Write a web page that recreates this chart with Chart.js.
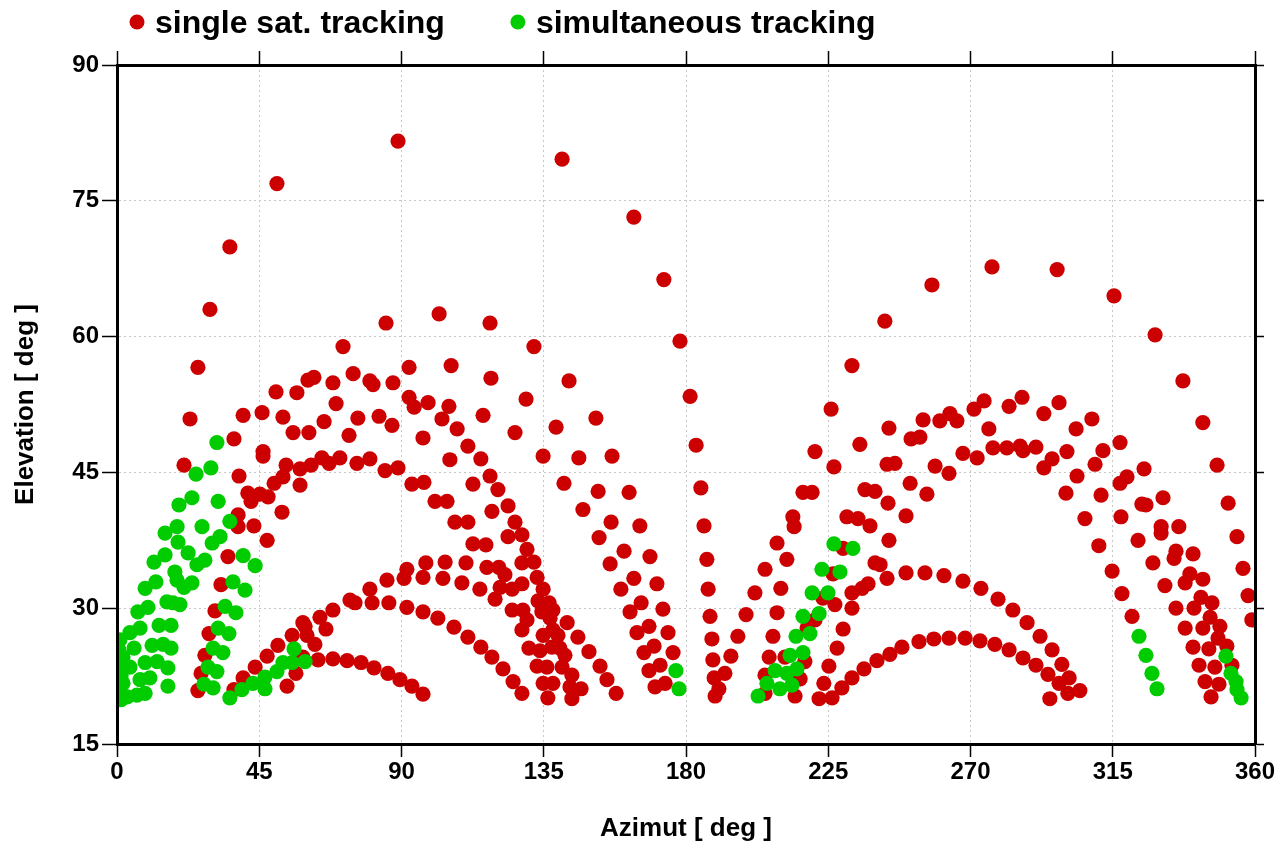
<!DOCTYPE html>
<html>
<head>
<meta charset="utf-8">
<title>Satellite tracking sky plot</title>
<script src="https://cdn.jsdelivr.net/npm/chart.js@4.4.0/dist/chart.umd.min.js"></script>
<style>
  html, body { margin: 0; padding: 0; background: #fff; }
  #wrap { width: 1280px; height: 845px; }
</style>
</head>
<body>
<div id="wrap"><canvas id="skyChart" width="1280" height="845"></canvas></div>
<script>
// [azimut, elevation] in degrees

// single satellite tracking, azimut 0..90
const singleQ1 = [
  [25.6,56.6],[23.1,50.9],[21.2,45.8],[29.4,63.0],[35.7,69.9],[50.6,76.9],[88.9,81.6],
  [37.0,48.7],[38.6,44.6],[39.9,51.3],[45.9,51.6],[50.3,53.9],[56.9,53.8],[52.5,51.1],
  [55.7,49.4],[46.2,47.3],[46.2,46.8],[53.5,45.8],[57.9,45.4],[49.7,43.8],[52.5,44.5],
  [57.9,43.6],[41.4,42.7],[42.4,41.8],[45.2,42.6],[47.8,42.3],[52.2,40.6],[38.3,40.3],
  [43.3,39.1],[60.4,55.2],[38.3,39.0],[47.5,37.5],[35.1,35.7],[32.9,32.6],[31.0,29.7],
  [29.1,27.2],[27.8,24.8],[26.6,22.8],[25.6,20.9],[55.4,27.0],[50.9,25.9],[47.5,24.7],
  [43.7,23.5],[39.9,22.3],[37.0,21.0],[53.8,21.4],[56.6,22.8],[58.8,24.6],[58.8,28.4],
  [71.5,58.9],[62.3,55.5],[68.3,54.9],[74.7,55.9],[80.0,55.1],[81.0,54.7],[87.3,54.9],
  [69.3,52.6],[65.5,50.6],[60.7,49.4],[73.4,49.1],[76.2,51.0],[82.9,51.2],[87.0,50.2],
  [61.4,45.8],[64.8,46.6],[67.1,46.0],[70.5,46.6],[75.9,46.0],[80.0,46.5],[84.8,45.2],
  [88.9,45.5],[85.4,33.1],[80.0,32.1],[73.7,30.9],[68.3,29.8],[64.2,29.0],[59.5,28.0],
  [75.3,30.6],[80.7,30.6],[86.0,30.6],[66.1,27.7],[60.1,27.0],[62.6,26.0],[63.6,24.3],
  [68.3,24.4],[72.8,24.2],[77.2,24.0],[81.3,23.4],[85.7,22.8],[89.5,22.1],[85.1,61.5]
]

// single satellite tracking, azimut 90..180
const singleQ2 = [
  [140.8,79.6],[163.5,73.2],[173.0,66.3],[178.1,59.5],[156.6,46.8],[151.5,51.0],[152.2,42.9],
  [162.0,42.8],[156.3,39.5],[165.4,39.1],[152.5,37.8],[160.4,36.3],[168.6,35.7],[156.0,34.9],
  [163.5,33.3],[170.8,32.7],[159.4,32.1],[165.8,30.6],[172.7,29.9],[162.3,29.6],[168.3,28.0],
  [174.3,27.3],[164.5,27.3],[169.9,25.8],[175.9,25.1],[166.7,25.1],[171.8,23.7],[168.3,23.1],
  [173.4,21.7],[170.2,21.3],[152.8,23.6],[155.0,22.1],[157.9,20.6],[92.4,56.6],[105.7,56.8],
  [118.3,55.4],[92.4,53.3],[94.0,52.2],[98.4,52.7],[105.0,52.3],[102.8,50.9],[107.6,49.8],
  [96.8,48.8],[115.8,51.3],[111.0,47.9],[115.1,46.5],[105.3,46.4],[93.3,43.7],[97.1,43.9],
  [100.6,41.8],[104.4,41.8],[106.9,39.5],[111.0,39.5],[112.6,43.7],[118.0,44.6],[118.6,40.7],
  [120.5,43.1],[112.6,37.1],[116.7,37.0],[103.8,35.1],[97.7,35.0],[91.7,34.3],[110.4,35.0],
  [117.0,34.5],[96.8,33.4],[90.8,33.3],[103.1,33.3],[109.1,32.8],[114.8,32.1],[119.6,31.0],
  [91.7,30.1],[96.8,29.6],[101.5,28.9],[106.6,27.9],[111.0,26.8],[115.1,25.7],[118.6,24.6],
  [93.3,21.4],[96.8,20.5],[131.9,58.9],[143.0,55.1],[129.4,53.1],[138.9,50.0],[125.9,49.4],
  [134.8,46.8],[146.1,46.6],[141.4,43.8],[123.7,41.3],[147.4,40.9],[125.9,39.5],[123.7,37.9],
  [128.1,38.1],[129.7,36.5],[128.1,35.0],[131.9,35.1],[120.8,34.5],[122.7,33.7],[132.9,33.4],
  [128.1,32.7],[121.2,32.3],[125.0,32.1],[134.8,32.1],[133.2,30.8],[136.7,30.6],[137.9,29.8],
  [134.4,29.6],[125.0,29.8],[128.4,29.8],[129.7,28.7],[128.1,27.6],[137.0,28.9],[142.4,28.4],
  [137.9,27.6],[134.8,27.0],[139.5,27.0],[145.8,26.8],[130.3,25.6],[133.8,25.3],[137.6,25.7],
  [140.1,25.6],[141.7,24.8],[149.3,25.2],[132.9,23.6],[136.0,23.5],[140.8,23.5],[143.9,22.6],
  [134.8,21.7],[137.9,21.7],[143.3,21.3],[146.8,21.1],[136.3,20.1],[143.9,20.0],[122.1,23.3],
  [125.3,21.9],[128.1,20.6],[101.9,62.5],[118.0,61.5]
]

// single satellite tracking, azimut 180..270
const singleQ3 = [
  [181.3,53.4],[183.2,48.0],[184.7,43.3],[185.7,39.1],[186.6,35.4],[187.0,32.1],[187.6,29.1],
  [188.2,26.6],[188.5,24.3],[188.9,22.3],[190.4,21.1],[189.2,20.3],[192.3,22.8],[194.2,24.7],
  [196.4,26.9],[199.0,29.3],[201.8,31.7],[205.0,34.3],[208.8,37.2],[225.9,52.0],[244.2,49.9],
  [235.0,48.1],[220.8,47.3],[226.8,45.6],[243.6,45.9],[246.1,46.0],[217.0,42.8],[219.9,42.8],
  [236.6,43.1],[239.8,42.9],[243.9,41.6],[213.8,40.1],[214.2,39.0],[230.9,40.1],[234.4,39.9],
  [238.2,39.1],[244.2,37.5],[211.9,35.4],[229.7,36.6],[239.8,35.0],[243.6,33.3],[226.5,33.8],
  [237.6,32.7],[235.7,32.2],[232.5,31.7],[210.0,32.2],[223.3,31.1],[227.1,30.4],[232.5,30.0],
  [208.8,29.5],[220.8,28.7],[207.5,26.9],[218.3,27.8],[229.7,27.7],[206.3,24.6],[211.3,24.6],
  [217.6,24.1],[227.8,25.6],[205.0,22.6],[216.1,22.2],[205.0,20.6],[214.5,20.3],[225.2,23.6],
  [223.6,21.7],[222.1,20.0],[226.2,20.1],[229.3,21.2],[232.5,22.3],[236.3,23.3],[240.4,24.2],
  [244.5,24.9],[248.3,25.7],[255.0,50.8],[260.3,50.7],[263.5,51.5],[265.7,50.7],[251.2,48.7],
  [254.0,48.9],[258.8,45.7],[267.6,47.1],[263.2,44.9],[250.9,43.8],[256.2,42.6],[249.6,40.2],
  [241.4,34.8],[249.6,33.9],[255.6,33.9],[261.6,33.6],[267.6,33.0],[253.7,26.3],[258.4,26.6],
  [263.2,26.7],[268.3,26.7],[242.9,61.7],[257.8,65.7],[232.5,56.8]
]

// single satellite tracking, azimut 270..360
const singleQ4 = [
  [271.1,52.0],[274.3,52.9],[282.2,52.3],[286.3,53.3],[293.2,51.5],[298.0,52.7],[275.8,49.8],
  [272.1,46.6],[277.1,47.7],[281.5,47.7],[285.7,47.9],[286.6,47.4],[290.7,47.8],[295.8,46.5],
  [293.2,45.5],[300.5,47.3],[300.2,42.7],[273.3,32.2],[278.7,31.0],[283.4,29.8],[287.9,28.4],
  [292.0,26.9],[295.8,25.4],[298.9,23.8],[301.2,22.3],[300.8,20.6],[273.0,26.4],[277.7,26.0],
  [282.2,25.4],[286.6,24.5],[290.7,23.7],[294.5,22.7],[298.0,21.7],[295.1,20.0],[337.2,55.1],
  [343.5,50.5],[348.0,45.8],[351.5,41.6],[354.3,37.9],[356.2,34.4],[357.8,31.4],[359.0,28.7],
  [308.4,50.9],[303.4,49.8],[311.9,47.4],[317.3,48.3],[309.4,45.9],[303.7,44.6],[311.3,42.5],
  [319.5,44.5],[317.3,43.8],[324.9,45.4],[306.2,39.9],[317.6,40.1],[324.2,41.5],[325.5,41.4],
  [330.9,42.2],[310.6,36.9],[323.0,37.5],[330.3,39.0],[330.3,38.3],[335.9,39.0],[314.8,34.1],
  [327.7,35.0],[335.0,36.3],[334.4,35.5],[340.4,36.0],[317.9,31.6],[331.5,32.5],[339.4,33.8],
  [337.9,32.8],[343.5,33.2],[321.1,29.1],[335.0,30.0],[340.7,30.0],[342.9,31.2],[346.4,30.6],
  [337.9,27.8],[343.5,27.8],[345.8,29.0],[348.9,28.0],[340.4,25.7],[345.4,25.5],[348.3,26.7],
  [351.1,25.8],[342.3,23.7],[347.3,23.5],[352.7,23.7],[344.2,21.9],[348.6,21.6],[346.1,20.2],
  [304.6,20.9],[276.8,67.7],[297.4,67.4],[315.4,64.5],[328.4,60.2]
]

// simultaneous tracking, north-east cluster
const simWest = [
  [31.6,48.3],[29.7,45.5],[25.0,44.8],[23.7,42.2],[19.6,41.4],[32.0,41.8],[35.7,39.6],
  [19.0,39.0],[26.9,39.0],[15.2,38.3],[19.3,37.3],[32.6,37.9],[30.1,37.2],[15.2,35.9],
  [11.7,35.1],[22.5,36.1],[27.8,35.3],[25.3,34.8],[39.9,35.8],[43.7,34.7],[18.3,34.0],
  [19.0,33.1],[23.7,32.8],[21.2,32.3],[12.3,32.9],[8.9,32.2],[36.7,32.9],[40.5,32.0],
  [15.8,30.7],[17.7,30.6],[19.9,30.4],[9.8,30.1],[6.6,29.6],[34.2,30.2],[37.6,29.5],
  [7.3,27.8],[4.1,27.3],[13.3,28.1],[17.1,28.1],[32.0,27.8],[35.4,27.2],[0.9,26.5],
  [11.1,25.9],[14.6,26.0],[17.1,25.6],[5.4,25.6],[30.4,25.6],[33.5,25.1],[1.9,24.6],
  [8.9,24.0],[12.7,24.1],[4.1,23.5],[16.1,23.4],[28.8,23.5],[31.6,23.0],[7.3,22.1],
  [10.4,22.3],[1.9,21.7],[16.1,21.4],[27.5,21.6],[30.4,21.2],[3.2,20.2],[6.3,20.4],
  [8.9,20.6],[0.9,20.6],[35.7,20.1],[39.5,21.0],[43.0,21.7],[46.8,22.4],[50.6,23.0],
  [52.5,24.0],[56.0,25.5],[55.4,24.0],[46.8,21.1],[59.5,24.1],[0.6,25.4],[0.6,23.4],
  [1.3,22.5],[0.3,24.3],[1.3,19.9]
]

// simultaneous tracking, south and south-west
const simSouth = [
  [176.8,23.1],[177.8,21.1],[226.8,37.1],[232.8,36.6],[223.0,34.3],[228.7,34.0],[219.9,31.7],
  [224.9,31.7],[217.0,29.1],[222.1,29.4],[214.8,26.9],[219.2,27.2],[212.9,24.8],[217.0,25.1],
  [208.2,23.1],[211.9,22.8],[215.1,23.3],[205.6,21.7],[209.7,21.1],[213.5,21.5],[202.8,20.3]
]

// simultaneous tracking, north-west
const simEast = [
  [323.3,26.9],[325.5,24.8],[327.4,22.8],[329.0,21.1],[350.8,24.7],[352.4,22.8],[354.0,21.9],
  [354.3,21.0],[355.6,20.1]
]

const azimutTicks = [0, 45, 90, 135, 180, 225, 270, 315, 360]
const elevationTicks = [15, 30, 45, 60, 75, 90]
const seriesLabels = ["single sat. tracking", "simultaneous tracking"]

const RED = "#cc0000"
const GREEN = "#00cc00"
const FONT = "'Liberation Sans', Arial, Helvetica, sans-serif"

const toPoints = (list) => list.map(([az, el]) => ({ x: az, y: el }))
const singleSat = [...singleQ1, ...singleQ2, ...singleQ3, ...singleQ4]
const simultaneous = [...simWest, ...simSouth, ...simEast]

// legend drawn by hand: gnuplot style, dot + bold label in one row
const topLegend = {
  id: "topLegend",
  afterDraw(chart) {
    const ctx = chart.ctx
    ctx.save()
    ctx.font = "bold 32px " + FONT
    ctx.textBaseline = "middle"
    let x = 137
    chart.data.datasets.forEach((ds) => {
      ctx.fillStyle = ds.pointBackgroundColor
      ctx.beginPath()
      ctx.arc(x, 22, 7.5, 0, Math.PI * 2)
      ctx.fill()
      ctx.fillStyle = "#000"
      ctx.fillText(ds.label, x + 18, 24)
      x += 18 + ctx.measureText(ds.label).width + 73
    })
    ctx.restore()
  },
}

const fixWidth = (w) => (scale) => { scale.width = w }
const fixHeight = (h) => (scale) => { scale.height = h }

const tickOpts = (values) => ({
  afterBuildTicks: (scale) => { scale.ticks = values.map((v) => ({ value: v })) },
})

document.addEventListener("DOMContentLoaded", () => {
  const ctx = document.getElementById("skyChart").getContext("2d")
  new Chart(ctx, {
    type: "scatter",
    data: {
      datasets: [
        {
          label: seriesLabels[0],
          data: toPoints(singleSat),
          pointBackgroundColor: RED,
          pointBorderWidth: 0,
          pointRadius: 7.6,
          order: 1,
        },
        {
          label: seriesLabels[1],
          data: toPoints(simultaneous),
          pointBackgroundColor: GREEN,
          pointBorderWidth: 0,
          pointRadius: 7.6,
          order: 0,
        },
      ],
    },
    options: {
      responsive: false,
      animation: false,
      events: [],
      layout: { padding: 0 },
      plugins: {
        legend: { display: false },
        tooltip: { enabled: false },
      },
      scales: {
        x: {
          type: "linear",
          position: "bottom",
          min: 0,
          max: 360,
          ...tickOpts(azimutTicks),
          afterFit: fixHeight(101),
          grid: {
            color: "#c8c8c8",
            lineWidth: 1,
            tickLength: 13,
            tickColor: "#000",
            tickWidth: 1.5,
            tickBorderDash: [],
          },
          border: { color: "#000", width: 3, dash: [2, 3], z: 1 },
          ticks: { color: "#000", padding: 1, maxRotation: 0, font: { family: FONT, size: 24, weight: "bold" } },
          title: {
            display: true,
            text: "Azimut [ deg ]",
            color: "#000",
            padding: { top: 0, bottom: 1 },
            font: { family: FONT, size: 26, weight: "bold" },
          },
        },
        x2: {
          type: "linear",
          position: "top",
          min: 0,
          max: 360,
          ...tickOpts(azimutTicks),
          afterFit: fixHeight(65),
          grid: { drawOnChartArea: false, tickLength: 14, tickColor: "#000", tickWidth: 1.5 },
          border: { color: "#000", width: 3, z: 1 },
          ticks: { display: false },
        },
        y: {
          type: "linear",
          position: "left",
          min: 15,
          max: 90,
          ...tickOpts(elevationTicks),
          afterFit: fixWidth(117),
          grid: {
            color: "#c8c8c8",
            lineWidth: 1,
            tickLength: 15,
            tickColor: "#000",
            tickWidth: 1.5,
            tickBorderDash: [],
          },
          border: { color: "#000", width: 3, dash: [2, 3], z: 1 },
          ticks: { color: "#000", padding: 3, font: { family: FONT, size: 24, weight: "bold" } },
          title: {
            display: true,
            text: "Elevation [ deg ]",
            color: "#000",
            padding: { top: 10, bottom: 0 },
            font: { family: FONT, size: 26, weight: "bold" },
          },
        },
        y2: {
          type: "linear",
          position: "right",
          min: 15,
          max: 90,
          ...tickOpts(elevationTicks),
          afterFit: fixWidth(25),
          grid: { drawOnChartArea: false, tickLength: 9, tickColor: "#000", tickWidth: 1.5 },
          border: { color: "#000", width: 3, z: 1 },
          ticks: { display: false },
        },
      },
    },
    plugins: [topLegend],
  })
})
</script>
</body>
</html>
